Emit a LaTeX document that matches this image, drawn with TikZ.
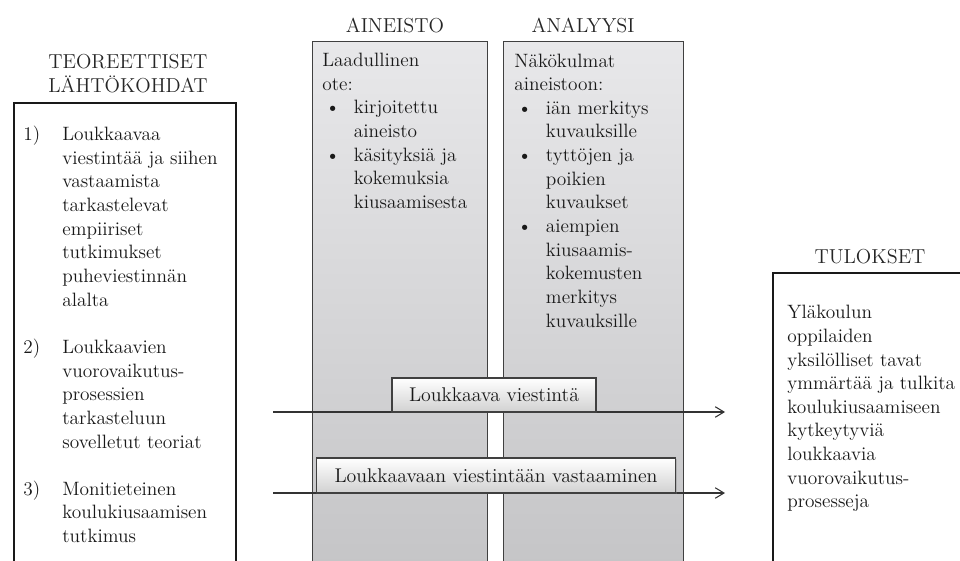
\documentclass[tikz,border=0pt]{standalone}
\usepackage{tikz}
\usetikzlibrary{arrows.meta, positioning, shadows}
\definecolor{colTop}{HTML}{E8E8EA}
\definecolor{colBot}{HTML}{C0C0C2}
\tikzstyle{outer} = [rectangle, anchor=north west, draw=black!90, line width=1.2pt, fill=white]
\tikzstyle{column} = [rectangle, anchor=north west, draw=black!75, line width=0.6pt, top color=colTop, bottom color=colBot]
\tikzstyle{header} = [inner sep=0pt, anchor=base, font=\fontsize{11.5}{13.6}\selectfont, text=black!85]
\tikzstyle{body} = [inner sep=0pt, anchor=base west, align=left, font=\fontsize{11}{13.45}\selectfont, text=black!90]
\tikzstyle{flow} = [rectangle, draw=black!75, line width=0.6pt, top color=white, bottom color=black!18, drop shadow={shadow xshift=0.8pt, shadow yshift=-0.8pt, opacity=0.35}, font=\fontsize{11.3}{13}\selectfont, text=black!90]
\tikzstyle{flowline} = [-{Straight Barb[length=5pt,width=6pt]}, draw=black!80, line width=0.6pt]
\newcommand{\bulletmark}{\makebox[18pt][l]{\hspace{1.7pt}\textbullet}}
\newcommand{\bulletgap}{\hspace*{18pt}}

\begin{document}
\begin{tikzpicture}[x=0.02cm, y=-0.02cm]
\useasboundingbox (0,0) rectangle (960,561);
\clip (0,0) rectangle (960,561);

% boxes
\node (teoria) [outer, minimum width=4.44cm, minimum height=10.76cm] at (13,102) {};
\node (aineisto) [column, minimum width=3.5cm, minimum height=12cm] at (312,41) {};
\node (analyysi) [column, minimum width=3.6cm, minimum height=12cm] at (503,41) {};
\node (tulokset) [outer, minimum width=5cm, minimum height=7.6cm] at (772,272) {};

% headers (multi-line nodes sit on their last baseline)
\node (hTeoria) [header, anchor=base west, align=left] at (48,92) {TEOREETTISET\\LÄHTÖKOHDAT};
\node (hAineisto) [header] at (395,32) {AINEISTO};
\node (hAnalyysi) [header] at (583,32) {ANALYYSI};
\node (hTulokset) [header] at (870,263) {TULOKSET};

% theory items
\node (num1) [body] at (23,140) {1)};
\node (item1) [body] at (62,306) {Loukkaavaa\\viestintää ja siihen\\vastaamista\\tarkastelevat\\empiiriset\\tutkimukset\\puheviestinnän\\alalta};
\node (num2) [body] at (23,353) {2)};
\node (item2) [body] at (62,448) {Loukkaavien\\vuorovaikutus-\\prosessien\\tarkasteluun\\sovelletut teoriat};
\node (num3) [body] at (23,495) {3)};
\node (item3) [body] at (62,542.5) {Monitieteinen\\koulukiusaamisen\\tutkimus};

% column texts
\node (ainText) [body] at (322,208.4) {Laadullinen\\ote:\\\bulletmark kirjoitettu\\\bulletgap aineisto\\\bulletmark käsityksiä ja\\\bulletgap kokemuksia\\\bulletgap kiusaamisesta};
\node (anaText) [body] at (514,327) {Näkökulmat\\aineistoon:\\\bulletmark iän merkitys\\\bulletgap kuvauksille\\\bulletmark tyttöjen ja\\\bulletgap poikien\\\bulletgap kuvaukset\\\bulletmark aiempien\\\bulletgap kiusaamis-\\\bulletgap kokemusten\\\bulletgap merkitys\\\bulletgap kuvauksille};

% results
\node (tulText) [body] at (787,507.8) {Yläkoulun\\oppilaiden\\yksilölliset tavat\\ymmärtää ja tulkita\\koulukiusaamiseen\\kytkeytyviä\\loukkaavia\\vuorovaikutus-\\prosesseja};

% arrows
\coordinate (viestS) at (273,412);
\coordinate (viestE) at (725,412);
\coordinate (vastS) at (273,493);
\coordinate (vastE) at (725,493);
\draw [flowline] (viestS) -- (viestE);
\draw [flowline] (vastS) -- (vastE);

\node (viesti) [flow, minimum width=4.08cm, minimum height=0.68cm] at (494,395) {Loukkaava viestintä};
\node (vastaus) [flow, minimum width=7.2cm, minimum height=0.7cm] at (496,475.5) {Loukkaavaan viestintään vastaaminen};
\end{tikzpicture}
\end{document}
